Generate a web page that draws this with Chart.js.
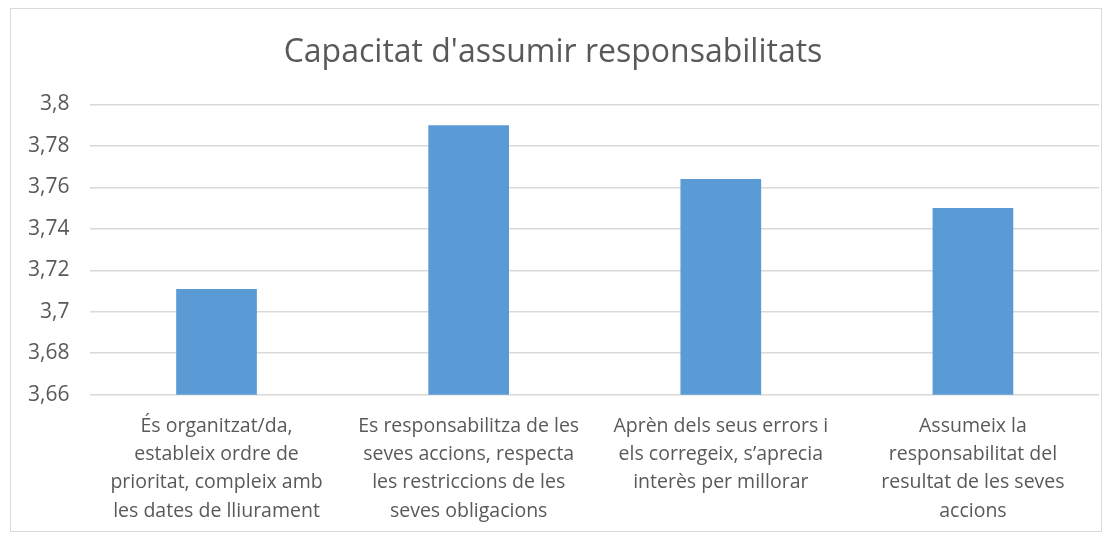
<!DOCTYPE html>
<html>
<head>
<meta charset="utf-8">
<script src="https://cdn.jsdelivr.net/npm/chart.js@4"></script>
<style>
    body { margin: 0; background: #fff; }
    #box {
        position: absolute;
        left: 10px;
        top: 8px;
        width: 1092px;
        height: 524px;
        border: 1px solid #d9d9d9;
        box-sizing: border-box;
    }
</style>
</head>
<body>
<div id="box"><canvas id="chart"></canvas></div>
<script>
// Chart data
const categories = [
    ['És organitzat/da,', 'estableix ordre de', 'prioritat, compleix amb', 'les dates de lliurament'],
    ['Es responsabilitza de les', 'seves accions, respecta', 'les restriccions de les', 'seves obligacions'],
    ['Aprèn dels seus errors i', 'els corregeix, s\u2019aprecia', 'interès per millorar'],
    ['Assumeix la', 'responsabilitat del', 'resultat de les seves', 'accions']
];
const values = [3.711, 3.79, 3.764, 3.75];
const yMin = 3.66;
const yMax = 3.8;
const yStep = 0.02;

const textColor = '#595959';
const fontFamily = "'Open Sans', sans-serif";

new Chart(document.getElementById('chart').getContext('2d'), {
    type: 'bar',
    data: {
        labels: categories,
        datasets: [{
            label: 'Capacitat',
            data: values,
            backgroundColor: '#5b9bd5',
            borderWidth: 0,
            categoryPercentage: 1,
            barPercentage: 0.32
        }]
    },
    options: {
        responsive: true,
        maintainAspectRatio: false,
        animation: false,
        layout: {
            padding: { left: -4, right: 2, top: 10, bottom: -4 }
        },
        plugins: {
            legend: { display: false },
            tooltip: { enabled: false },
            title: {
                display: true,
                text: "Capacitat d'assumir responsabilitats",
                color: textColor,
                font: { family: fontFamily, size: 32, weight: 'normal' },
                padding: { top: 15, bottom: 32 }
            }
        },
        scales: {
            x: {
                grid: { display: false },
                border: { display: false },
                ticks: {
                    color: textColor,
                    font: { family: fontFamily, size: 19.5, lineHeight: 1.44 },
                    maxRotation: 0,
                    autoSkip: false,
                    padding: 10
                }
            },
            y: {
                min: yMin,
                max: yMax,
                border: { display: false },
                grid: { color: '#d9d9d9', lineWidth: 1.5, drawTicks: false },
                ticks: {
                    stepSize: yStep,
                    color: textColor,
                    font: { family: fontFamily, size: 21 },
                    padding: 21,
                    callback: v => Number(v.toFixed(2)).toString().replace('.', ',')
                }
            }
        }
    }
});
</script>
</body>
</html>
